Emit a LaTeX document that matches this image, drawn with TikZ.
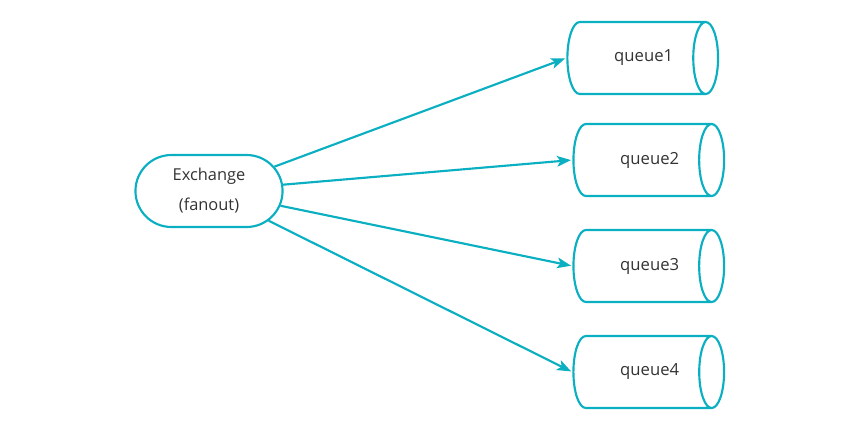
\documentclass[tikz,border=0pt]{standalone}
\usepackage{fontspec}
\setmainfont{Open Sans}
\usetikzlibrary{shapes.geometric,shapes.misc,arrows.meta}
\definecolor{teal1}{HTML}{0AAFC2}
\definecolor{txt}{HTML}{333333}
\begin{document}
\begin{tikzpicture}[x=0.75pt,y=-0.75pt,line width=1.6pt,
    exbox/.style={draw=teal1,rounded rectangle,minimum width=117pt,minimum height=54pt,text=txt,align=center,font=\fontsize{12.3}{22.5}\selectfont},
    qbox/.style={draw=teal1,cylinder,shape border rotate=0,aspect=1,minimum width=54pt,minimum height=113pt,text=txt,font=\fontsize{12.5}{14}\selectfont,execute at begin node=\hspace*{16pt}},
    link/.style={draw=teal1,shorten >=1pt,-{Stealth[length=10.5pt,width=8pt,inset=2.5pt]}}]
        \useasboundingbox (0,0) rectangle (855,426);
        \node(ex) [exbox] at (209,191) {Exchange\\(fanout)};
        \node(q1) [qbox] at (633,58) {queue1};
        \node(q2) [qbox] at (639,160) {queue2};
        \node(q3) [qbox] at (639,266) {queue3};
        \node(q4) [qbox] at (639,372) {queue4};
        \draw[link](ex) -- (q1.west);
        \draw[link](ex) -- (q2.west);
        \draw[link](ex) -- (q3.west);
        \draw[link](ex) -- (q4.west);
    \end{tikzpicture}
\end{document}
